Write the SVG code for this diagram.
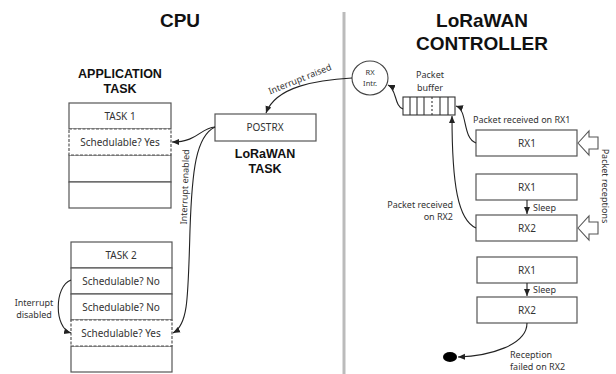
<svg xmlns="http://www.w3.org/2000/svg" width="616" height="374" viewBox="0 0 616 374">
<style>
text{font-family:"Noto Sans","Open Sans","Liberation Sans",sans-serif;fill:#333}
.title{font-family:"Liberation Sans",Arial,sans-serif;font-weight:bold;font-size:19px;fill:#111;text-anchor:middle}
.sub{font-family:"Liberation Sans",Arial,sans-serif;font-weight:bold;font-size:12.5px;fill:#111;text-anchor:middle}
.cell{font-size:10px;text-anchor:middle}
.lbl{font-size:9px}
.box{fill:#fff;stroke:#555;stroke-width:1.2}
.dash{fill:#fff;stroke:#555;stroke-width:1.2;stroke-dasharray:3 1.5}
.con{fill:none;stroke:#222;stroke-width:1.1}
</style>
<defs>
<marker id="ah" markerWidth="8" markerHeight="8" refX="7" refY="4" orient="auto" markerUnits="userSpaceOnUse">
<path d="M0,1 L7,4 L0,7 Z" fill="#222"/>
</marker>
</defs>
<rect width="616" height="374" fill="#fff"/>
<line x1="344" y1="12" x2="344" y2="374" stroke="#bbb" stroke-width="3"/>
<text class="title" x="180" y="27">CPU</text>
<text class="title" x="482" y="27">LoRaWAN</text>
<text class="title" x="482" y="50">CONTROLLER</text>

<g id="app-task-label">
<text class="sub" x="120" y="78">APPLICATION</text>
<text class="sub" x="120" y="93">TASK</text>
</g>
<g id="task1">
<rect class="box" x="69" y="103" width="102" height="26"/>
<text class="cell" x="120" y="120">TASK 1</text>
<rect class="box" x="69" y="155" width="102" height="27"/>
<rect class="box" x="69" y="182" width="102" height="26"/>
<rect class="dash" x="69" y="129" width="102" height="26"/>
<text class="cell" x="120" y="146">Schedulable? Yes</text>
</g>
<g id="task2">
<rect class="box" x="71" y="242" width="101" height="26"/>
<text class="cell" x="121" y="259">TASK 2</text>
<rect class="box" x="71" y="268" width="101" height="26"/>
<text class="cell" x="121" y="285">Schedulable? No</text>
<rect class="box" x="71" y="294" width="101" height="26"/>
<text class="cell" x="121" y="311">Schedulable? No</text>
<rect class="box" x="71" y="346" width="101" height="26"/>
<rect class="dash" x="71" y="320" width="101" height="26"/>
<text class="cell" x="121" y="337">Schedulable? Yes</text>
</g>
<g id="postrx">
<rect class="box" x="215" y="114" width="101" height="27"/>
<text class="cell" x="265" y="131">POSTRX</text>
<text class="sub" x="265" y="158">LoRaWAN</text>
<text class="sub" x="265" y="173">TASK</text>
</g>
<g id="rx-intr">
<ellipse cx="370" cy="78" rx="18" ry="17" fill="#fff" stroke="#444" stroke-width="1.1"/>
<text x="370" y="75" font-size="7.5" text-anchor="middle">RX</text>
<text x="370" y="86" font-size="7.5" text-anchor="middle">Intr.</text>
</g>
<g id="packet-buffer">
<text class="lbl" x="430" y="78" text-anchor="middle" font-size="10">Packet</text>
<text class="lbl" x="430" y="91" text-anchor="middle" font-size="10">buffer</text>
<rect x="403" y="97" width="52" height="18" fill="#fff" stroke="#333" stroke-width="1.1"/>
<g stroke="#333" stroke-width="1.1">
<line x1="410" y1="97" x2="410" y2="115"/>
<line x1="417" y1="97" x2="417" y2="115"/>
<line x1="424" y1="97" x2="424" y2="115"/>
<line x1="432" y1="97" x2="432" y2="115" stroke-dasharray="2 2"/>
<line x1="440" y1="97" x2="440" y2="115"/>
<line x1="448" y1="97" x2="448" y2="115"/>
</g>
</g>
<g id="rx1-a">
<rect class="box" x="476" y="130" width="101" height="26"/>
<text class="cell" x="527" y="147">RX1</text>
</g>
<g id="rx1-b">
<rect class="box" x="476" y="174" width="101" height="26"/>
<text class="cell" x="527" y="191">RX1</text>
</g>
<g id="rx2-b">
<rect class="box" x="476" y="215" width="101" height="26"/>
<text class="cell" x="527" y="232">RX2</text>
</g>
<g id="rx1-c">
<rect class="box" x="477" y="257" width="100" height="26"/>
<text class="cell" x="527" y="274">RX1</text>
</g>
<g id="rx2-c">
<rect class="box" x="477" y="297" width="100" height="26"/>
<text class="cell" x="527" y="314">RX2</text>
</g>
<g id="fail-dot">
<ellipse cx="450" cy="357" rx="7" ry="5" fill="#000"/>
</g>
<g id="receptions">
<polygon points="578,143 589,131 589,137 598,137 598,149 589,149 589,155" fill="#fff" stroke="#555" stroke-width="1.1"/>
<polygon points="578,228 589,216 589,222 598,222 598,234 589,234 589,240" fill="#fff" stroke="#555" stroke-width="1.1"/>
<text class="lbl" x="0" y="0" font-size="10" text-anchor="middle" transform="translate(602,186) rotate(90)">Packet receptions</text>
</g>

<g id="connectors">
<path class="con" d="M352,78 C318,80 276,86 266,113" marker-end="url(#ah)"/>
<path class="con" d="M403,109 C394,106 397,89 388,85" marker-end="url(#ah)"/>
<path class="con" d="M476,143 C462,138 468,110 456,106" marker-end="url(#ah)"/>
<path class="con" d="M476,228 C458,220 452,185 452,116" marker-end="url(#ah)"/>
<path class="con" d="M215,127 C200,128 198,142 172,142" marker-end="url(#ah)"/>
<path class="con" d="M215,127 C196,136 192,170 190,230 C188,300 188,325 173,333" marker-end="url(#ah)"/>
<path class="con" d="M71,280 C54,286 54,328 71,333" marker-end="url(#ah)"/>
<path class="con" d="M527,200 L527,214" marker-end="url(#ah)"/>
<path class="con" d="M527,283 L527,296" marker-end="url(#ah)"/>
<path class="con" d="M527,323 C527,345 490,356 458,357" marker-end="url(#ah)"/>
<text class="lbl" x="0" y="0" text-anchor="middle" transform="translate(301,82) rotate(-22)">Interrupt raised</text>
<text class="lbl" x="0" y="0" text-anchor="middle" transform="translate(188,187) rotate(-88)">Interrupt enabled</text>
<text class="lbl" x="34" y="306" text-anchor="middle">Interrupt</text>
<text class="lbl" x="34" y="318" text-anchor="middle">disabled</text>
<text class="lbl" x="473" y="123">Packet received on RX1</text>
<text class="lbl" x="453" y="208" text-anchor="end">Packet received</text>
<text class="lbl" x="453" y="220" text-anchor="end">on RX2</text>
<text class="lbl" x="533" y="211">Sleep</text>
<text class="lbl" x="533" y="293">Sleep</text>
<text class="lbl" x="510" y="358">Reception</text>
<text class="lbl" x="510" y="370">failed on RX2</text>
</g>
</svg>
